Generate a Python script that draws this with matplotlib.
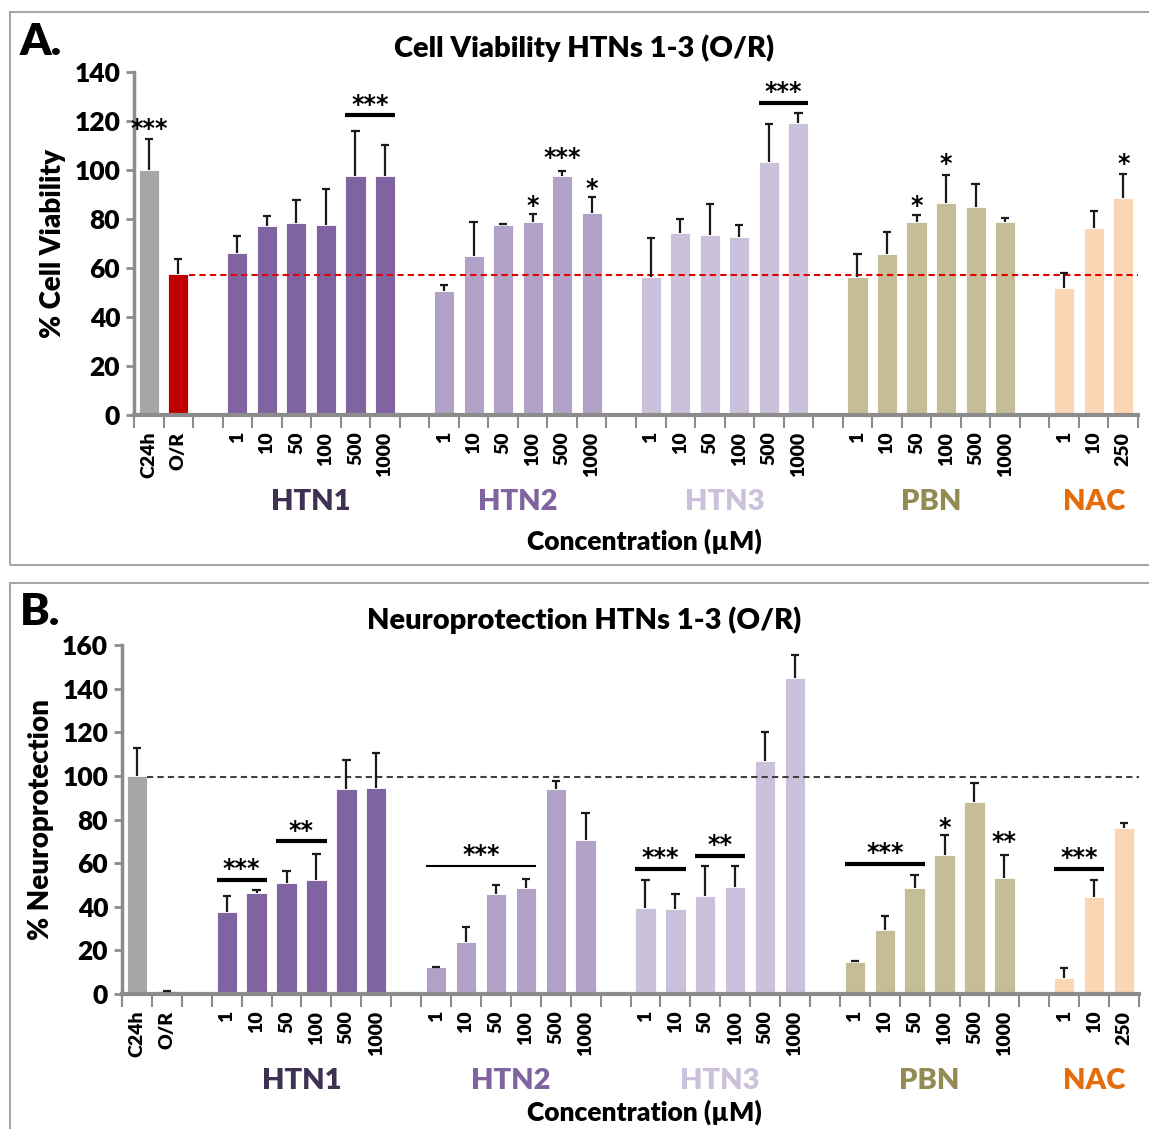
import numpy as np
import matplotlib
matplotlib.use("Agg")
import matplotlib.pyplot as plt
from matplotlib.patches import Rectangle

plt.rcParams['font.family'] = ['Lato', 'DejaVu Sans']
plt.rcParams['font.weight'] = 'heavy'

# ---- categories ----
conc6 = ["1", "10", "50", "100", "500", "1000"]
conc3 = ["1", "10", "250"]
ctrl_labels = ["C24h", "O/R"]
groups = ["HTN1", "HTN2", "HTN3", "PBN", "NAC"]
group_colors = ["#8064a2", "#b3a2c7", "#ccc1da", "#c4bd97", "#fcd5b5"]
group_text_colors = ["#3f3151", "#8064a2", "#ccc1da", "#948a54", "#e46c0a"]
ctrl_colors = ["#a6a6a6", "#c00000"]

# ---- A: cell viability ----
ctrl_a = [100, 57.5]
ctrl_a_err = [12.5, 6.2]
htn1_a = [66.3, 77.2, 78.3, 77.7, 97.7, 97.7]
htn1_a_err = [6.7, 4.2, 9.5, 14.6, 18.3, 12.5]
htn2_a = [50.6, 64.8, 77.5, 78.7, 97.7, 82.6]
htn2_a_err = [2.6, 13.9, 0.3, 3.4, 2.0, 6.5]
htn3_a = [56.5, 74.1, 73.3, 72.5, 103.1, 119.3]
htn3_a_err = [15.9, 5.9, 12.7, 5.2, 15.5, 4.0]
pbn_a = [56.5, 65.7, 78.8, 86.4, 84.9, 78.8]
pbn_a_err = [9.1, 9.1, 2.8, 11.4, 9.4, 1.7]
nac_a = [51.7, 76.2, 88.7]
nac_a_err = [6.3, 7.2, 9.8]

# ---- B: neuroprotection ----
ctrl_b = [100, 1.2]
ctrl_b_err = [13, 0.3]
htn1_b = [37.5, 46.4, 51.0, 52.2, 94.1, 94.5]
htn1_b_err = [7.4, 1.1, 5.6, 12.2, 13.2, 16.0]
htn2_b = [12.2, 23.7, 46.0, 48.6, 94.1, 70.5]
htn2_b_err = [0.3, 6.9, 4.1, 4.1, 3.5, 12.3]
htn3_b = [39.4, 38.8, 45.0, 48.9, 106.7, 144.7]
htn3_b_err = [12.7, 6.9, 13.5, 9.6, 13.6, 10.7]
pbn_b = [14.7, 29.4, 48.6, 63.6, 88.1, 53.2]
pbn_b_err = [0.3, 6.5, 5.9, 9.2, 8.7, 10.5]
nac_b = [7.5, 44.6, 76.3]
nac_b_err = [4.3, 7.5, 1.9]

# significance marks: (first slot, last slot, y of line or None, y of text, text, line width)
sig_a = [(0, 0, None, 116.8, "***", 0), (7, 8, 122.4, 126.5, "***", 3),
         (13, 13, None, 85.5, "*", 0), (14, 14, None, 105, "***", 0),
         (15, 15, None, 92.4, "*", 0), (21, 22, 127.5, 132, "***", 3),
         (26, 26, None, 85.2, "*", 0), (27, 27, None, 102.4, "*", 0),
         (33, 33, None, 102.4, "*", 0)]
sig_b = [(3, 4, 52.4, 57.5, "***", 3), (5, 6, 70.2, 74.8, "**", 3),
         (10, 13, 58.5, 63.5, "***", 1.5), (17, 18, 57.3, 62.3, "***", 3),
         (19, 20, 63.1, 68.1, "**", 3), (24, 26, 59.8, 64.8, "***", 3),
         (27, 27, None, 75.9, "*", 0), (29, 29, None, 69.5, "**", 0),
         (31, 32, 57.3, 62.3, "***", 3)]

W = 0.68
AXC = "#8c8c8c"


def slots():
    pos = [0, 1]
    start = 3
    sizes = [6, 6, 6, 6, 3]
    gpos = []
    for s in sizes:
        gpos.append(list(range(start, start + s)))
        start += s + 1
    return pos, gpos


def draw(ax, ctrl, ctrl_err, series, errs, ymax, ystep, sig, hline, hcolor, hstart):
    cpos, gpos = slots()
    xs, vals, ers, cols = [], [], [], []
    for i in range(2):
        xs.append(cpos[i]); vals.append(ctrl[i]); ers.append(ctrl_err[i]); cols.append(ctrl_colors[i])
    for g in range(5):
        for j, v in enumerate(series[g]):
            xs.append(gpos[g][j]); vals.append(v); ers.append(errs[g][j]); cols.append(group_colors[g])
    xs = np.array(xs); vals = np.array(vals); ers = np.array(ers)
    ax.bar(xs, vals, width=W, color=cols, edgecolor="white", linewidth=0.6, zorder=2)
    ax.axhline(hline, xmin=(hstart + 0.5) / 34, xmax=1, color=hcolor, ls=(0, (3, 2)), lw=1.5, zorder=3)
    tops = vals + ers
    ax.vlines(xs, vals, tops, color="#1a1a1a", lw=1.6, zorder=4)
    ax.hlines(tops, xs - 0.14, xs + 0.14, color="#1a1a1a", lw=1.6, zorder=4)

    for a, b, ly, ty, txt, lw in sig:
        if ly is not None:
            ax.hlines(ly, a - W / 2, b + W / 2, color="black", lw=lw, zorder=4)
        ax.text((a + b) / 2, ty, txt, ha="center", va="center", fontsize=17, fontweight="bold",
                family="DejaVu Sans", zorder=5)

    ax.set_xlim(-0.5, 33.5)
    ax.set_ylim(0, ymax)
    ax.set_yticks(np.arange(0, ymax + 1, ystep))
    ax.tick_params(axis="y", labelsize=19, length=6, width=2, color=AXC, pad=4)
    for lab in ax.get_yticklabels():
        lab.set_fontweight("heavy")

    labels = ctrl_labels[:]
    ticks = list(cpos)
    for g in range(5):
        ticks += gpos[g]
        labels += conc3 if g == 4 else conc6
    ax.set_xticks(ticks)
    ax.set_xticklabels(labels, rotation=90, fontsize=14, fontweight="heavy")
    ax.set_xticks(np.arange(-0.5, 34, 1), minor=True)
    ax.tick_params(axis="x", which="major", length=0, pad=12)
    ax.tick_params(axis="x", which="minor", length=9, width=1.5, color=AXC)

    for s in ["top", "right"]:
        ax.spines[s].set_visible(False)
    ax.spines["left"].set_color(AXC)
    ax.spines["left"].set_linewidth(2.5)
    ax.spines["bottom"].set_color(AXC)
    ax.spines["bottom"].set_linewidth(3)

    for g in range(5):
        gx = np.mean(gpos[g])
        ax.annotate(groups[g], xy=(gx, 0), xycoords=("data", "axes fraction"),
                    xytext=(0, -87 * 0.72), textcoords="offset points",
                    ha="center", va="center", fontsize=21, fontweight="heavy",
                    color=group_text_colors[g])


fig = plt.figure(figsize=(11.49, 11.29), dpi=100)
H = 1129.0
WF = 1149.0

fig.patches.append(Rectangle((10 / WF, 1 - 565 / H), 1.2, (565 - 12) / H, transform=fig.transFigure,
                             fill=False, edgecolor="#a6a6a6", lw=1.5))
fig.patches.append(Rectangle((10 / WF, 1 - 1140 / H), 1.2, (1140 - 583) / H, transform=fig.transFigure,
                             fill=False, edgecolor="#a6a6a6", lw=1.5))

axA = fig.add_axes([134 / WF, 1 - 415 / H, 1004 / WF, 343 / H])
draw(axA, ctrl_a, ctrl_a_err, [htn1_a, htn2_a, htn3_a, pbn_a, nac_a],
     [htn1_a_err, htn2_a_err, htn3_a_err, pbn_a_err, nac_a_err],
     140, 20, sig_a, 57, "#e00000", 1.35)
axA.set_ylabel("% Cell Viability", fontsize=20, fontweight="heavy", labelpad=6)

axB = fig.add_axes([122 / WF, 1 - 994 / H, 1017 / WF, 349 / H])
draw(axB, ctrl_b, ctrl_b_err, [htn1_b, htn2_b, htn3_b, pbn_b, nac_b],
     [htn1_b_err, htn2_b_err, htn3_b_err, pbn_b_err, nac_b_err],
     160, 20, sig_b, 99.5, "#404040", 0.35)
axB.set_ylabel("% Neuroprotection", fontsize=20, fontweight="heavy", labelpad=6)

fig.text(584 / WF, 1 - 48 / H, "Cell Viability HTNs 1-3 (O/R)", ha="center", va="center",
         fontsize=21, fontweight="heavy")
fig.text(584 / WF, 1 - 620 / H, "Neuroprotection HTNs 1-3 (O/R)", ha="center", va="center",
         fontsize=21, fontweight="heavy")
fig.text(20 / WF, 1 - 42 / H, "A.", ha="left", va="center", fontsize=32, fontweight="heavy")
fig.text(20 / WF, 1 - 612 / H, "B.", ha="left", va="center", fontsize=32, fontweight="heavy")
fig.text(644 / WF, 1 - 541 / H, "Concentration (µM)", ha="center", va="center",
         fontsize=19, fontweight="heavy")
fig.text(644 / WF, 1 - 1112 / H, "Concentration (µM)", ha="center", va="center",
         fontsize=19, fontweight="heavy")

fig.savefig("out.png", dpi=100, facecolor="white")
